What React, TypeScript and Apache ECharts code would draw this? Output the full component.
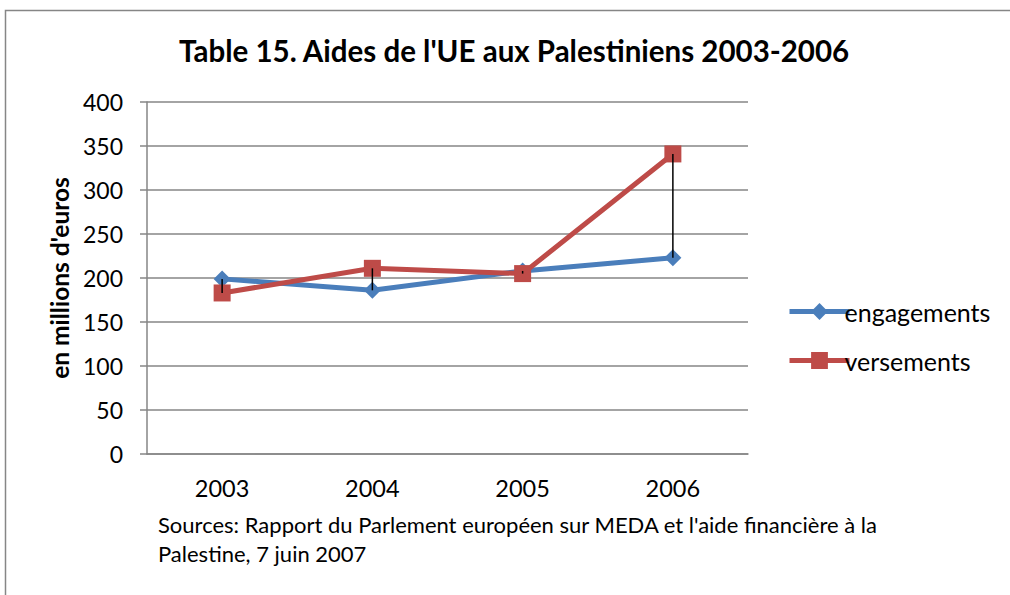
import React, { useEffect, useRef } from "react";
import * as echarts from "echarts";

const years = ["2003", "2004", "2005", "2006"];
const engagements = [199, 186, 208, 223];
const versements = [183, 211, 205, 341];
const yTicks = { min: 0, max: 400, interval: 50 };

export default function App() {
  const ref = useRef<HTMLDivElement>(null);
  useEffect(() => {
    document.body.style.margin = "0";
    const chart = echarts.init(ref.current!, null, { renderer: "svg" });
    const font = "Lato, 'Open Sans', sans-serif";
    chart.setOption({
      animation: false,
      backgroundColor: "#ffffff",
      title: {
        text: "Table 15. Aides de l'UE aux Palestiniens 2003-2006",
        left: 174,
        top: 30,
        textStyle: { fontFamily: font, fontWeight: "bold", fontSize: 29.5, color: "#000" },
      },
      grid: { left: 147, right: 262, top: 102, bottom: 141 },
      legend: {
        orient: "vertical",
        left: 782,
        top: 294,
        itemWidth: 60,
        itemHeight: 21,
        itemGap: 24,
        data: ["engagements", "versements"],
        lineStyle: { width: 5 },
        textStyle: { fontFamily: font, fontSize: 25, color: "#000", padding: [0, 0, 0, -10] },
      },
      xAxis: {
        type: "category",
        data: years,
        boundaryGap: true,
        axisLine: { lineStyle: { color: "#868686", width: 1.5 } },
        axisTick: { show: false },
        axisLabel: { fontFamily: font, fontSize: 23.5, color: "#000", margin: 22 },
      },
      yAxis: {
        type: "value",
        min: yTicks.min,
        max: yTicks.max,
        interval: yTicks.interval,
        name: "en millions d'euros",
        nameLocation: "middle",
        nameGap: 73,
        nameTextStyle: { fontFamily: font, fontWeight: "bold", fontSize: 24.5, color: "#000" },
        axisLine: { show: true, lineStyle: { color: "#868686", width: 1.5 } },
        axisTick: { show: true, inside: false, length: 7, lineStyle: { color: "#868686", width: 1.5 } },
        splitLine: { lineStyle: { color: "#868686", width: 1.5 } },
        axisLabel: { fontFamily: font, fontSize: 23, color: "#000", margin: 24 },
      },
      graphic: [
        {
          type: "rect",
          shape: { x: 5.5, y: 10.5, width: 1100, height: 700 },
          style: { fill: "none", stroke: "#868686", lineWidth: 1.5 },
          silent: true,
        },
        {
          type: "text",
          left: 158,
          top: 510,
          style: {
            text: "Sources: Rapport du Parlement européen sur MEDA et l'aide financière à la\nPalestine, 7 juin 2007",
            font: `22px ${font}`,
            lineHeight: 29,
            fill: "#000",
          },
        },
      ],
      series: [
        {
          name: "engagements",
          type: "line",
          data: engagements,
          symbol: "diamond",
          symbolSize: 17,
          lineStyle: { color: "#4A7EBB", width: 5 },
          itemStyle: { color: "#4A7EBB" },
          z: 3,
        },
        {
          name: "versements",
          type: "line",
          data: versements,
          symbol: "rect",
          symbolSize: 17,
          lineStyle: { color: "#BE4B48", width: 5 },
          itemStyle: { color: "#BE4B48" },
          z: 4,
        },
        {
          type: "custom",
          name: "hilo",
          data: years.map((_, i) => [i, engagements[i], versements[i]]),
          z: 10,
          silent: true,
          renderItem: (params: any, api: any) => {
            const p1 = api.coord([api.value(0), api.value(1)]);
            const p2 = api.coord([api.value(0), api.value(2)]);
            return {
              type: "line",
              shape: { x1: p1[0], y1: p1[1], x2: p2[0], y2: p2[1] },
              style: { stroke: "#000", lineWidth: 1.5 },
            };
          },
        },
      ],
    });
    return () => chart.dispose();
  }, []);
  return <div ref={ref} style={{ width: 1010, height: 595 }} />;
}
